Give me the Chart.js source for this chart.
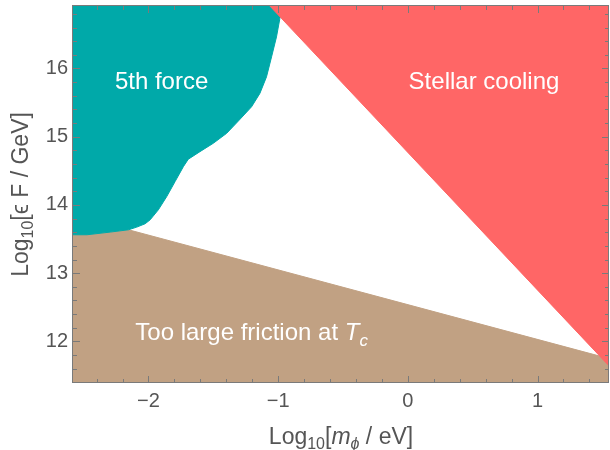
<!DOCTYPE html>
<html>
<head>
<meta charset="utf-8">
<script src="https://cdn.jsdelivr.net/npm/chart.js"></script>
<style>
  body { margin: 0; background: #fff; }
  #box { width: 610px; height: 450px; }
</style>
</head>
<body>
<div id="box"><canvas id="plot"></canvas></div>
<script>
// axis ranges and tick labels
var xMin = -2.582, xMax = 1.551;
var yMin = 11.39, yMax = 16.916;
var xTicks = [-2, -1, 0, 1];
var yTicks = [12, 13, 14, 15, 16];

// 5th force boundary (region above/left of it is excluded)
var tealX = [-2.582, -2.474, -2.295, -2.154, -2.090, -2.026, -1.987, -1.924, -1.859, -1.795, -1.731, -1.693,
             -1.603, -1.500, -1.397, -1.300, -1.205, -1.141, -1.090, -1.051, -1.013, -0.987, -0.964];
var tealY = [13.563, 13.563, 13.602, 13.636, 13.675, 13.724, 13.782, 13.928, 14.123, 14.342, 14.561, 14.670,
             14.781, 14.904, 15.050, 15.244, 15.439, 15.635, 15.877, 16.170, 16.462, 16.731, 16.916];

// friction bound (region below it)
var frictionX = [-2.582, -2.474, -2.295, -2.154, 1.480, 1.551];
var frictionY = [13.563, 13.563, 13.602, 13.636, 11.784, 11.748];

// stellar cooling bound (region above it)
var stellarX = [-1.064, 1.551];
var stellarY = [16.916, 11.641];

// region labels: text, x, baseline y (data units)
var labels = [
  { runs: [{ t: '5th force' }], x: -1.899, y: 15.693 },
  { runs: [{ t: 'Stellar cooling' }], x: 0.587, y: 15.693 },
  { runs: [{ t: 'Too large friction at ' }, { t: 'T', it: true }, { t: 'c', it: true, sub: true }], x: -1.205, y: 12.015 }
];

var xTitle = [{ t: 'Log' }, { t: '10', sub: true }, { t: '[' }, { t: 'm', it: true }, { t: 'ϕ', it: true, sub: true }, { t: ' / eV]' }];
var yTitle = [{ t: 'Log' }, { t: '10', sub: true }, { t: '[ϵ F / GeV]' }];

var FONT = '"Liberation Sans", Arial, sans-serif';
var GRAY = '#555555';

function pts(xs, ys) {
  return xs.map(function (x, i) { return { x: x, y: ys[i] }; });
}

function runFont(r, size) {
  return (r.it ? 'italic ' : '') + (r.sub ? Math.round(size * 0.7) : size) + 'px ' + FONT;
}

function drawRich(ctx, runs, size, x, y) {
  var total = 0;
  runs.forEach(function (r) {
    ctx.font = runFont(r, size);
    r.w = ctx.measureText(r.t).width;
    total += r.w;
  });
  var cx = x - total / 2;
  ctx.textAlign = 'left';
  ctx.textBaseline = 'alphabetic';
  runs.forEach(function (r) {
    ctx.font = runFont(r, size);
    ctx.fillText(r.t, cx, y + (r.sub ? size * 0.22 : 0));
    cx += r.w;
  });
}

var decor = {
  id: 'decor',
  afterDatasetsDraw: function (chart) {
    var ctx = chart.ctx, xs = chart.scales.x, ys = chart.scales.y;
    ctx.save();
    ctx.fillStyle = '#ffffff';
    labels.forEach(function (l) {
      drawRich(ctx, l.runs, 24, xs.getPixelForValue(l.x), ys.getPixelForValue(l.y));
    });
    ctx.restore();
  },
  afterDraw: function (chart) {
    var ctx = chart.ctx, a = chart.chartArea, xs = chart.scales.x, ys = chart.scales.y;
    ctx.save();
    ctx.strokeStyle = '#7a7a7a';
    ctx.lineWidth = 1;
    ctx.beginPath();
    // inward ticks on all four sides, minor every 0.2
    var v, p, len;
    for (v = Math.ceil(xMin / 0.2) * 0.2; v <= xMax + 1e-9; v += 0.2) {
      p = Math.round(xs.getPixelForValue(v)) + 0.5;
      len = Math.abs(v - Math.round(v)) < 1e-6 ? 7 : 4;
      ctx.moveTo(p, a.bottom); ctx.lineTo(p, a.bottom - len);
      ctx.moveTo(p, a.top); ctx.lineTo(p, a.top + len);
    }
    for (v = Math.ceil(yMin / 0.2) * 0.2; v <= yMax + 1e-9; v += 0.2) {
      p = Math.round(ys.getPixelForValue(v)) + 0.5;
      len = Math.abs(v - Math.round(v)) < 1e-6 ? 7 : 4;
      ctx.moveTo(a.left, p); ctx.lineTo(a.left + len, p);
      ctx.moveTo(a.right, p); ctx.lineTo(a.right - len, p);
    }
    ctx.stroke();
    ctx.strokeRect(a.left - 0.5, a.top - 0.5, a.right - a.left, a.bottom - a.top);

    // axis titles
    ctx.fillStyle = GRAY;
    drawRich(ctx, xTitle, 23, (a.left + a.right) / 2, 444);
    ctx.translate(28, (a.top + a.bottom) / 2);
    ctx.rotate(-Math.PI / 2);
    drawRich(ctx, yTitle, 23, 0, 0);
    ctx.restore();
  }
};

function tickText(v) {
  return v < 0 ? '\u2212' + Math.abs(v) : String(v);
}

new Chart(document.getElementById('plot'), {
  type: 'line',
  data: {
    datasets: [
      {
        label: 'Stellar cooling',
        data: pts(stellarX, stellarY),
        backgroundColor: '#ff6666',
        borderColor: '#ff6666',
        borderWidth: 1,
        pointRadius: 0,
        fill: 'end',
        clip: 0
      },
      {
        label: '5th force',
        data: pts(tealX, tealY),
        backgroundColor: '#00a9a9',
        borderColor: '#00a9a9',
        borderWidth: 1,
        pointRadius: 0,
        fill: 'end',
        clip: 0
      },
      {
        label: 'Too large friction',
        data: pts(frictionX, frictionY),
        backgroundColor: '#c1a183',
        borderColor: '#c1a183',
        borderWidth: 1,
        pointRadius: 0,
        fill: 'start',
        clip: 0
      }
    ]
  },
  options: {
    responsive: true,
    maintainAspectRatio: false,
    animation: false,
    layout: { padding: { top: 6, right: 1, left: 0, bottom: 0 } },
    plugins: { legend: { display: false }, tooltip: { enabled: false } },
    scales: {
      x: {
        type: 'linear',
        min: xMin,
        max: xMax,
        grid: { display: false, drawTicks: false },
        border: { display: false },
        afterBuildTicks: function (s) { s.ticks = xTicks.map(function (v) { return { value: v }; }); },
        afterFit: function (s) { s.height = 67; s.paddingLeft = 0; s.paddingRight = 0; },
        ticks: {
          padding: 6,
          color: GRAY,
          font: { family: FONT, size: 20 },
          maxRotation: 0,
          callback: tickText
        }
      },
      y: {
        type: 'linear',
        min: yMin,
        max: yMax,
        grid: { display: false, drawTicks: false },
        border: { display: false },
        afterBuildTicks: function (s) { s.ticks = yTicks.map(function (v) { return { value: v }; }); },
        afterFit: function (s) { s.width = 73; s.paddingTop = 0; s.paddingBottom = 0; },
        ticks: {
          padding: 5,
          color: GRAY,
          font: { family: FONT, size: 20 },
          callback: tickText
        }
      }
    }
  },
  plugins: [decor]
});
</script>
</body>
</html>
